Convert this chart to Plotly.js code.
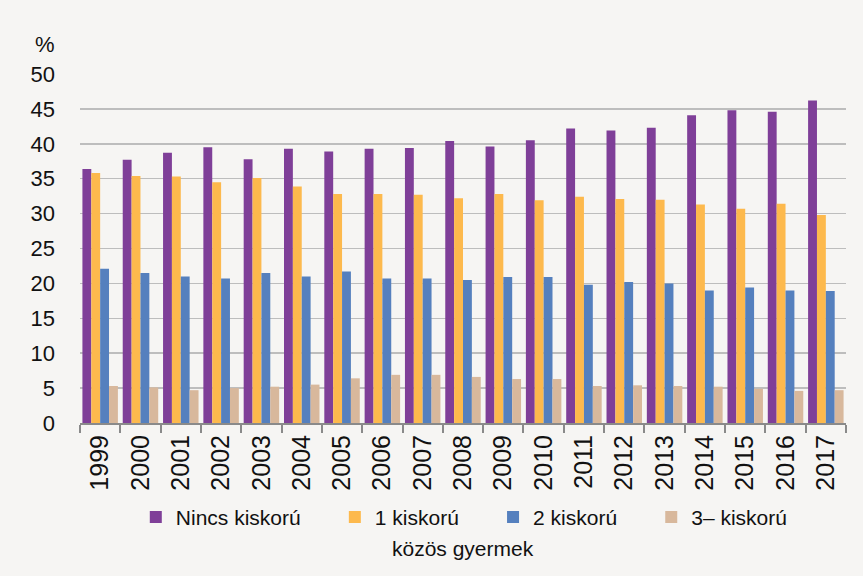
<!DOCTYPE html>
<html>
<head>
<meta charset="utf-8">
<script src="https://cdn.plot.ly/plotly-3.0.1.min.js"></script>
<style>html,body{margin:0;padding:0;background:#f6f5f3;}#chart{width:863px;height:576px;}</style>
</head>
<body>
<div id="chart"></div>
<script>
const years = ["1999","2000","2001","2002","2003","2004","2005","2006","2007","2008","2009","2010","2011","2012","2013","2014","2015","2016","2017"];
const nincs = [36.4,37.7,38.7,39.5,37.8,39.3,38.9,39.3,39.4,40.4,39.6,40.5,42.2,41.9,42.3,44.1,44.8,44.6,46.2];
const egy   = [35.8,35.4,35.3,34.5,35.1,33.9,32.8,32.8,32.7,32.2,32.8,31.9,32.4,32.1,32.0,31.3,30.7,31.4,29.8];
const ketto = [22.1,21.5,21.0,20.7,21.5,21.0,21.7,20.7,20.7,20.5,20.9,20.9,19.8,20.2,20.0,19.0,19.4,19.0,18.9];
const harom = [5.3,5.1,4.7,5.0,5.2,5.5,6.4,6.9,6.9,6.6,6.3,6.3,5.3,5.4,5.3,5.2,4.9,4.6,4.7];
const seriesNames = ["Nincs kiskorú","1 kiskorú","2 kiskorú","3– kiskorú"];
const colors = ["#7f3f98","#fdb94d","#5580be","#d8b89c"];
const yTicks = [0,5,10,15,20,25,30,35,40,45,50];
const namePad = ["\u00a0\u00a0\u00a0\u00a0\u00a0","\u00a0\u00a0\u00a0\u00a0\u00a0","\u00a0\u00a0\u00a0\u00a0\u00a0",""];

const fontFam = "Liberation Sans, Arial, sans-serif";
const data = [nincs, egy, ketto, harom].map((vals, i) => ({
  type: "bar",
  x: years,
  y: vals,
  name: seriesNames[i] + namePad[i],
  marker: {color: colors[i], line: {width: 0}}
}));

const layout = {
  width: 863, height: 576,
  paper_bgcolor: "#f6f5f3",
  plot_bgcolor: "#f6f5f3",
  margin: {l: 80, r: 17, t: 74, b: 153},
  barmode: "group",
  bargap: 0.12,
  bargroupgap: 0,
  font: {family: fontFam, color: "#111", size: 21},
  xaxis: {
    type: "category",
    tickangle: -90,
    tickfont: {size: 25, family: fontFam, color: "#111"},
    showline: true, linecolor: "#8a8a8a", linewidth: 2,
    ticks: "outside", tickson: "boundaries", ticklen: 8, tickcolor: "#8a8a8a", tickwidth: 2,
    showgrid: false
  },
  yaxis: {
    range: [0, 50],
    tickvals: yTicks,
    ticktext: yTicks.map(String),
    tickfont: {size: 22, family: fontFam, color: "#111"},
    showgrid: true, gridcolor: "#bdbdbd", gridwidth: 1.5,
    zeroline: false, showline: false, ticks: "", ticklabelstandoff: 24
  },
  showlegend: true,
  legend: {
    orientation: "h",
    x: 0.538, xanchor: "center", xref: "container",
    y: 0.102, yanchor: "middle", yref: "container",
    font: {size: 21, family: fontFam, color: "#111"},
    bgcolor: "rgba(0,0,0,0)",
    traceorder: "normal"
  },
  annotations: [
    {text: "%", xref: "paper", yref: "paper", x: -0.03, y: 1.0, yshift: 30, xanchor: "right", yanchor: "middle", showarrow: false, font: {size: 22, family: fontFam, color: "#111"}},
    {text: "közös gyermek", xref: "paper", yref: "paper", x: 0.5, y: 0, yshift: -125, xanchor: "center", yanchor: "middle", showarrow: false, font: {size: 21, family: fontFam, color: "#111"}}
  ]
};

Plotly.newPlot("chart", data, layout, {displayModeBar: false, staticPlot: true});
</script>
</body>
</html>
